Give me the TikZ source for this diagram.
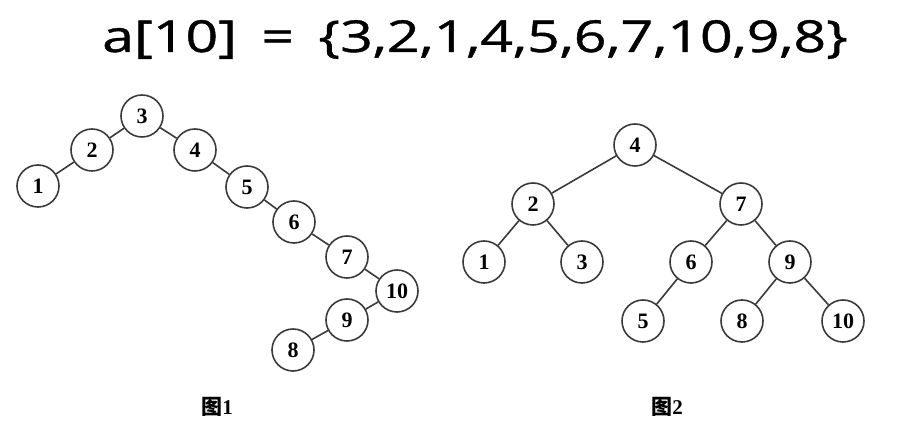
\documentclass[tikz,border=0pt]{standalone}
\usepackage{fontspec}
\setmainfont{Liberation Serif}
\newfontfamily\titlefont[FakeBold=0.8]{Open Sans}
\newfontfamily\cjkfont{Noto Sans CJK SC}
\definecolor{linegray}{HTML}{3A3A3A}
\begin{document}
\begin{tikzpicture}[x=1pt,y=-1pt,
  tn/.style={circle,draw=linegray,line width=1.6pt,minimum size=42pt,inner sep=0pt,font=\fontsize{22}{22}\selectfont\bfseries},
  edge/.style={draw=linegray,line width=1.6pt},
  figcaption/.style={font=\fontsize{21}{21}\selectfont\bfseries}]
\useasboundingbox (0,0) rectangle (914,427);
\node[anchor=base] (title) at (475,52) {\scalebox{1.3}[1]{\titlefont\fontsize{44}{44}\selectfont a[10]\, =\, \{3,2,1,4,5,6,7,10,9,8\}}};
% figure 1
\node[tn] (a3) at (142,116) {3};
\node[tn] (a2) at (92,150) {2};
\node[tn] (a1) at (38,186) {1};
\node[tn] (a4) at (195,150) {4};
\node[tn] (a5) at (247,187) {5};
\node[tn] (a6) at (294,222) {6};
\node[tn] (a7) at (347,257) {7};
\node[tn] (a10) at (397,291) {10};
\node[tn] (a9) at (347,320) {9};
\node[tn] (a8) at (293,350) {8};
\path[edge] (a1)--(a2) (a2)--(a3) (a3)--(a4) (a4)--(a5) (a5)--(a6) (a6)--(a7) (a7)--(a10) (a10)--(a9) (a9)--(a8);
% figure 2
\node[tn] (b4) at (635,145) {4};
\node[tn] (b2) at (533,204) {2};
\node[tn] (b7) at (741,204) {7};
\node[tn] (b1) at (484,262) {1};
\node[tn] (b3) at (582,262) {3};
\node[tn] (b6) at (691,262) {6};
\node[tn] (b9) at (790,262) {9};
\node[tn] (b5) at (643,321) {5};
\node[tn] (b8) at (742,321) {8};
\node[tn] (b10) at (843,321) {10};
\path[edge] (b4)--(b2) (b4)--(b7) (b2)--(b1) (b2)--(b3) (b7)--(b6) (b7)--(b9) (b6)--(b5) (b9)--(b8) (b9)--(b10);
\node[figcaption] (c1) at (217,407) {{\cjkfont 图}1};
\node[figcaption] (c2) at (667,407) {{\cjkfont 图}2};
\end{tikzpicture}
\end{document}
